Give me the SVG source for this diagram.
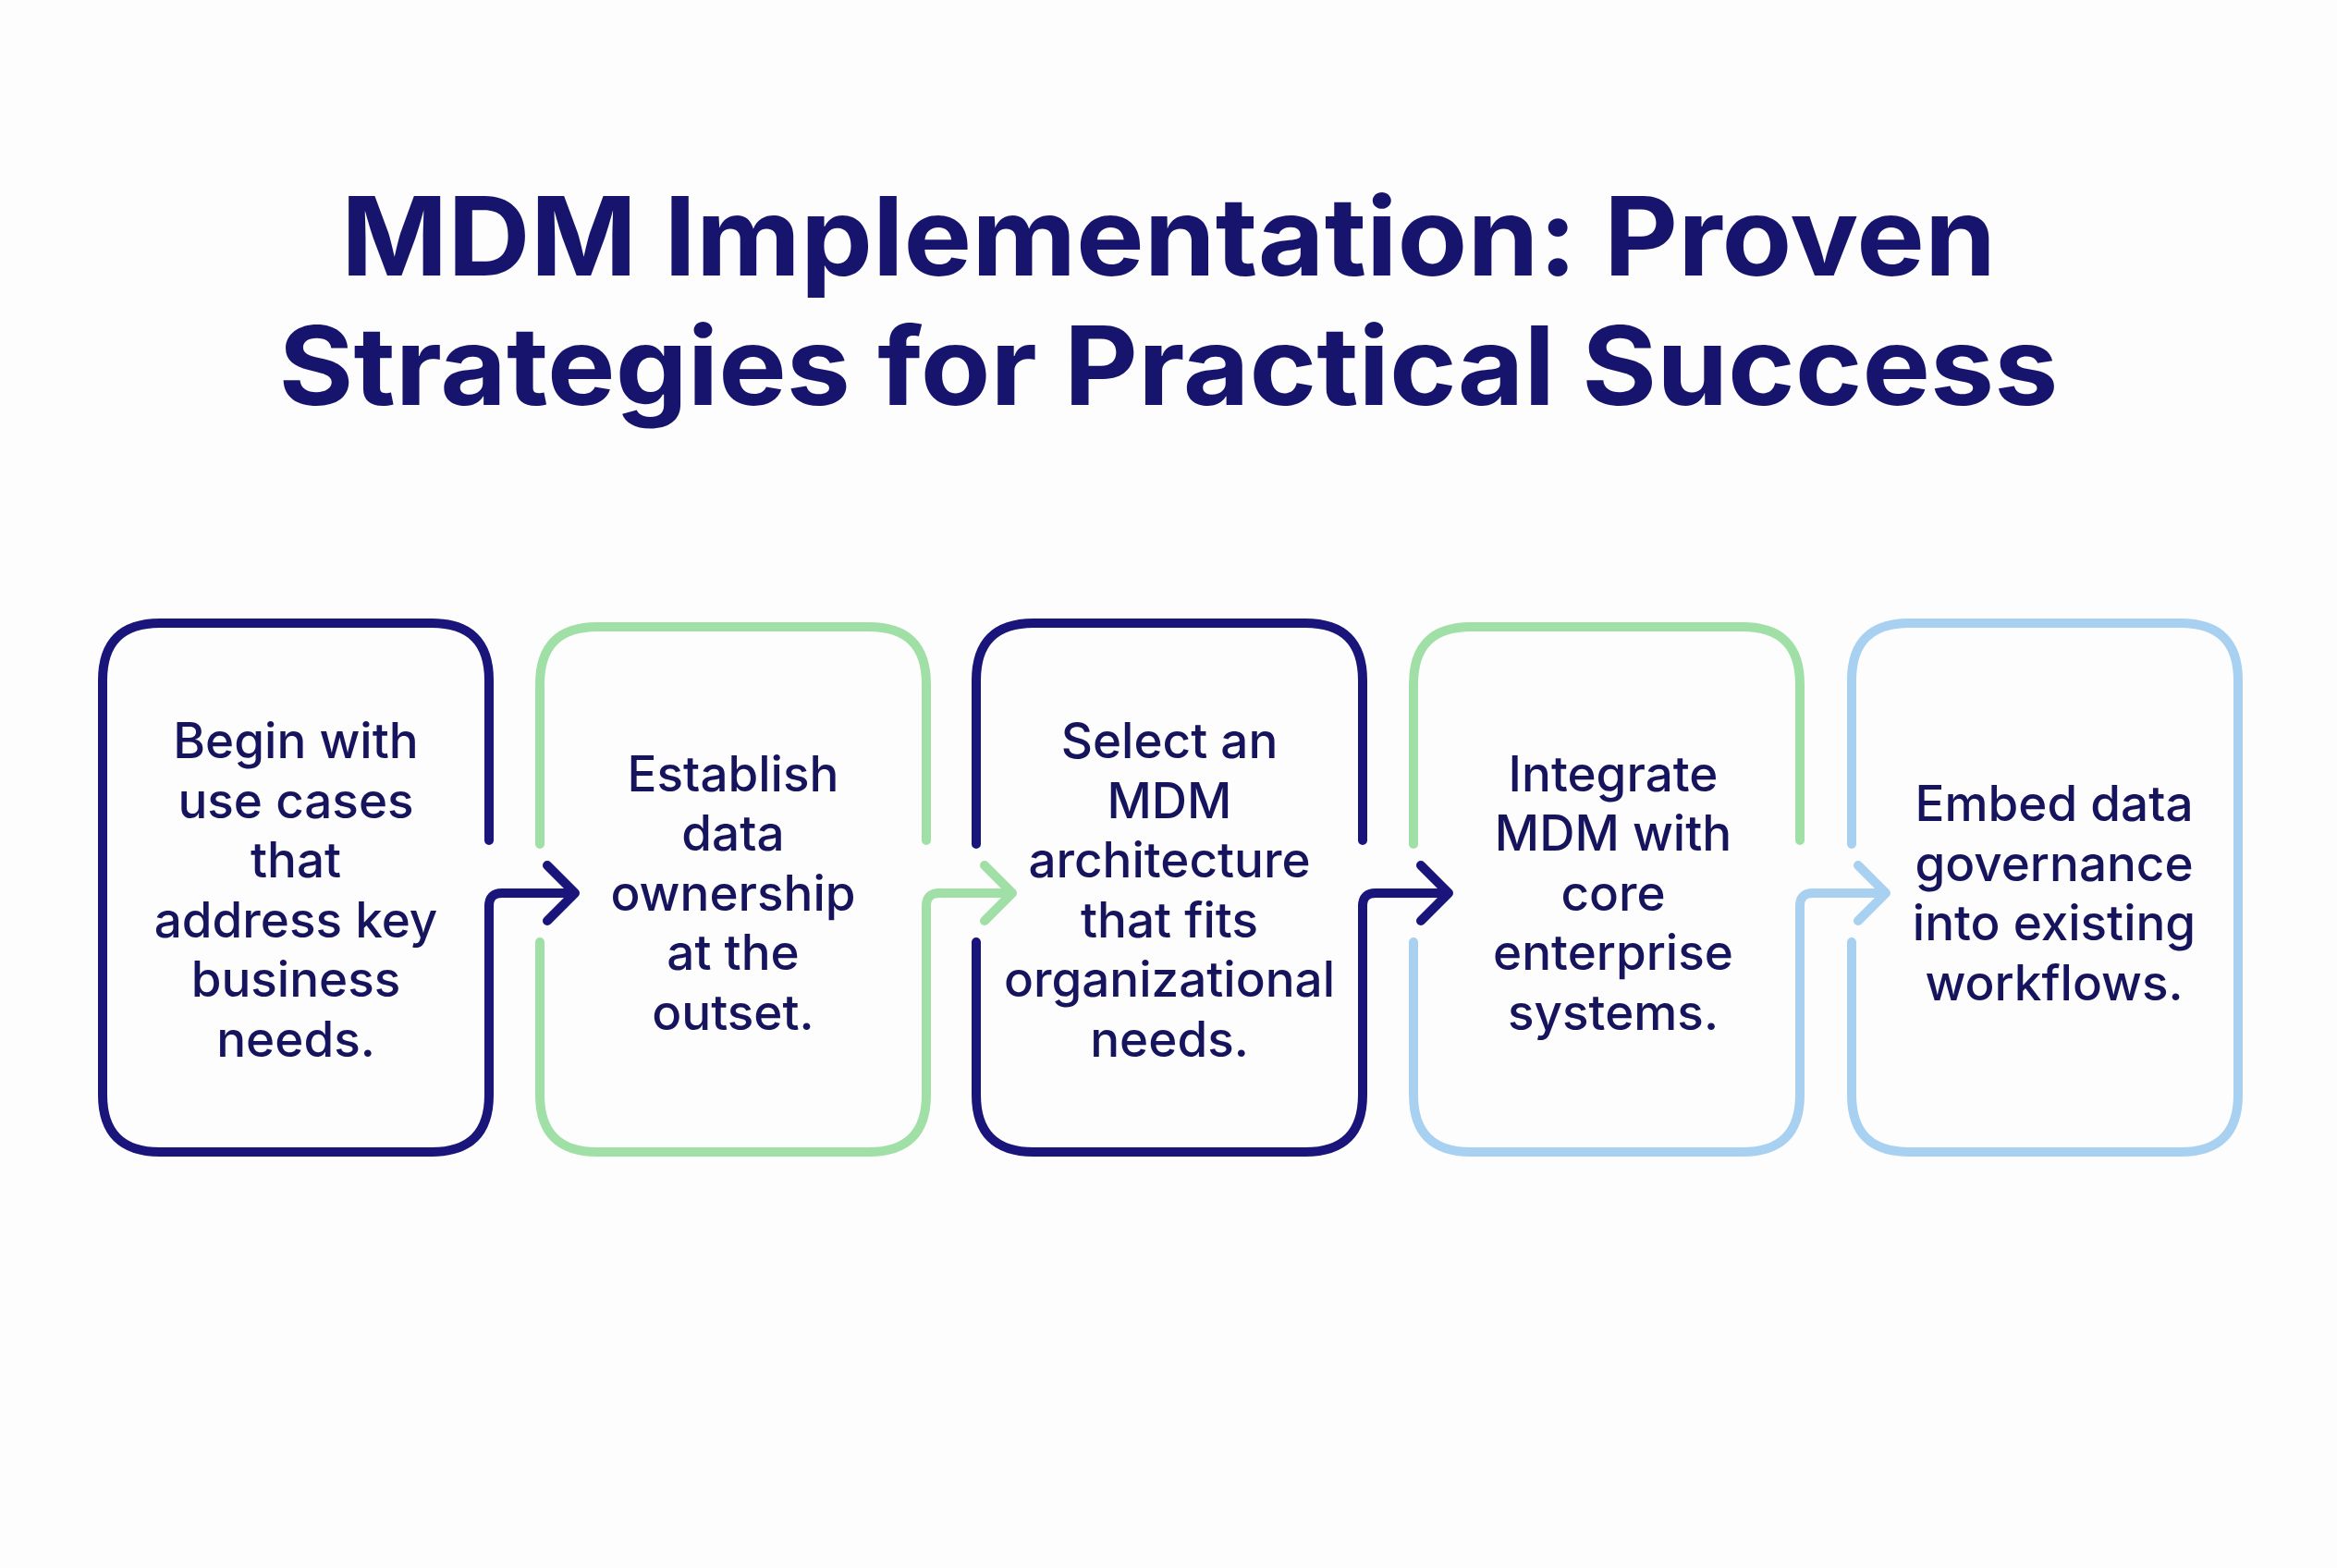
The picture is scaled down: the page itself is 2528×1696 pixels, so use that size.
<svg xmlns="http://www.w3.org/2000/svg" width="2528" height="1696" viewBox="0 0 2528 1696">
<style>
.t{font-family:Inter,"Noto Sans","Liberation Sans",sans-serif;font-weight:700;font-size:118px;fill:#17146e;text-anchor:middle}
.n{font-family:Inter,"Noto Sans","Liberation Sans",sans-serif;font-weight:500;font-size:53px;fill:#17145e;text-anchor:middle}
.s{fill:none;stroke-width:10;stroke-linecap:round;stroke-linejoin:round}
.nv{stroke:#19157a}.gr{stroke:#a0e0a6}.bl{stroke:#a8d0f0}
</style>
<rect width="2528" height="1696" fill="#fdfdfd"/>
<text class="t" x="1264" y="298" textLength="1790" lengthAdjust="spacingAndGlyphs">MDM Implementation: Proven</text>
<text class="t" x="1264" y="438" textLength="1925" lengthAdjust="spacingAndGlyphs">Strategies for Practical Success</text>

<g id="node1">
<path class="s nv" d="M529,909 V736 Q529,674 467,674 H173 Q111,674 111,736 V1184 Q111,1246 173,1246 H467 Q529,1246 529,1184 V980"/>
<text class="n" x="320" y="820">Begin with</text><text class="n" x="320" y="885">use cases</text><text class="n" x="320" y="949">that</text><text class="n" x="320" y="1014">address key</text><text class="n" x="320" y="1078">business</text><text class="n" x="320" y="1143">needs.</text>
</g>
<g id="node2">
<path class="s gr" d="M584,913 V740 Q584,678 646,678 H940 Q1002,678 1002,740 V909"/>
<path class="s gr" d="M584,1019 V1184 Q584,1246 646,1246 H940 Q1002,1246 1002,1184 V980"/>
<text class="n" x="793" y="856">Establish</text><text class="n" x="793" y="920">data</text><text class="n" x="793" y="985">ownership</text><text class="n" x="793" y="1049">at the</text><text class="n" x="793" y="1114">outset.</text>
</g>
<g id="node3">
<path class="s nv" d="M1056,913 V736 Q1056,674 1118,674 H1412 Q1474,674 1474,736 V909"/>
<path class="s nv" d="M1056,1019 V1184 Q1056,1246 1118,1246 H1412 Q1474,1246 1474,1184 V980"/>
<text class="n" x="1265" y="820">Select an</text><text class="n" x="1265" y="885">MDM</text><text class="n" x="1265" y="949">architecture</text><text class="n" x="1265" y="1014">that fits</text><text class="n" x="1265" y="1078">organizational</text><text class="n" x="1265" y="1143">needs.</text>
</g>
<g id="node4">
<path class="s gr" d="M1529,913 V740 Q1529,678 1591,678 H1885 Q1947,678 1947,740 V909"/>
<path class="s bl" d="M1529,1019 V1184 Q1529,1246 1591,1246 H1885 Q1947,1246 1947,1184 V980"/>
<text class="n" x="1745" y="856">Integrate</text><text class="n" x="1745" y="920">MDM with</text><text class="n" x="1745" y="985">core</text><text class="n" x="1745" y="1049">enterprise</text><text class="n" x="1745" y="1114">systems.</text>
</g>
<g id="node5">
<path class="s bl" d="M2003,913 V736 Q2003,674 2065,674 H2359 Q2421,674 2421,736 V1184 Q2421,1246 2359,1246 H2065 Q2003,1246 2003,1184 V1019"/>
<text class="n" x="2222" y="888">Embed data</text><text class="n" x="2222" y="953">governance</text><text class="n" x="2222" y="1017">into existing</text><text class="n" x="2222" y="1082">workflows.</text>
</g>

<g id="connectors">
<path class="s nv" d="M529,980 Q529,966 543,966 H618 M592,936 L622,966 L592,996"/>
<path class="s gr" d="M1002,980 Q1002,966 1016,966 H1091 M1065,936 L1095,966 L1065,996"/>
<path class="s nv" d="M1474,980 Q1474,966 1488,966 H1563 M1537,936 L1567,966 L1537,996"/>
<path class="s bl" d="M1947,980 Q1947,966 1961,966 H2036 M2010,936 L2040,966 L2010,996"/>
</g>
</svg>
